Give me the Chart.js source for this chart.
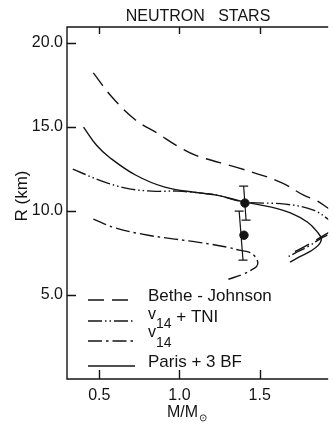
<!DOCTYPE html>
<html><head><meta charset="utf-8">
<script src="https://cdn.jsdelivr.net/npm/chart.js@4.4.0/dist/chart.umd.min.js"></script>
<style>html,body{margin:0;padding:0;background:#fff;}canvas{display:block}</style>
</head><body>
<canvas id="c" width="334" height="428"></canvas>
<script>
// ---- data ----
const chartTitle = 'NEUTRON   STARS';
const yTitle = 'R (km)';
const xTitle = 'M/M';
const xTitleSub = '\u2299';
const seriesNames = ['Bethe - Johnson', 'v14 + TNI', 'v14', 'Paris + 3 BF'];
const xTicks = [0.5, 1.0, 1.5];
const yTicks = [5, 10, 15, 20];

const bjM  = [0.463,0.579,0.726,0.860,0.988,1.110,1.372,1.628,1.774,1.848,1.927,1.994,2.006,1.970,1.902,1.829,1.750,1.683];
const bjR  = [18.20,16.77,15.40,14.63,13.85,13.27,12.54,11.71,10.93,10.64,10.16,9.74,9.32,8.97,8.55,8.14,7.72,7.42];

const tniM = [0.335,0.500,0.665,0.829,0.988,1.140,1.232,1.409,1.659,1.835,1.927,1.970,1.951,1.884,1.805,1.720,1.671];
const tniR = [12.48,11.83,11.35,11.17,11.17,11.05,10.93,10.52,10.40,10.04,9.50,9.09,8.73,8.38,7.90,7.48,7.24];

const v14M = [0.463,0.604,0.805,0.970,1.110,1.293,1.372,1.433,1.470,1.488,1.482,1.457,1.396,1.305];
const v14R = [9.51,8.97,8.55,8.32,8.14,7.85,7.66,7.54,7.30,6.94,6.71,6.53,6.23,5.93];

const parM = [0.402,0.482,0.561,0.726,0.909,1.140,1.232,1.409,1.573,1.695,1.799,1.860,1.884,1.866,1.817,1.744,1.689];
const parR = [14.98,13.91,13.20,12.13,11.41,11.05,10.93,10.52,10.22,9.86,9.32,8.73,8.32,7.96,7.60,7.24,6.95];

const obsM = [1.408, 1.402];
const obsR = [10.46, 8.55];
const errTopM = [1.400, 1.372];
const errTopR = [11.47, 9.98];
const errBotM = [1.415, 1.396];
const errBotR = [9.45, 7.07];

// ---- build ----
const ink = '#141414';
const FONT = "'Liberation Sans', Arial, sans-serif";
const pts = (m, r) => m.map((v, i) => ({x: v, y: r[i]}));
const curve = (label, m, r, dash) => ({
  label, data: pts(m, r), borderColor: ink, borderWidth: 1.4, borderDash: dash,
  pointRadius: 0, tension: 0.4, fill: false
});
const datasets = [
  curve(seriesNames[0], bjM, bjR, [16, 8]),
  curve(seriesNames[1], tniM, tniR, [14, 3, 1.5, 3, 1.5, 3]),
  curve(seriesNames[2], v14M, v14R, [14, 4, 2.5, 4]),
  curve(seriesNames[3], parM, parR, []),
];
obsM.forEach((m, i) => {
  datasets.push({
    label: 'err' + i,
    data: [{x: errTopM[i], y: errTopR[i]}, {x: errBotM[i], y: errBotR[i]}],
    borderColor: ink, borderWidth: 1.2, tension: 0,
    pointStyle: 'line', pointRadius: 4.5, pointBorderWidth: 1.3, pointBorderColor: ink
  });
});
datasets.push({
  label: 'obs', data: pts(obsM, obsR), showLine: false,
  pointStyle: 'circle', pointRadius: 4.2, backgroundColor: ink, borderColor: ink, pointBackgroundColor: ink
});

const deco = {
  id: 'deco',
  afterDraw(chart) {
    const ctx = chart.ctx;
    const {left, right, top, bottom} = chart.chartArea;
    const xs = chart.scales.x, ys = chart.scales.y;
    ctx.save();
    ctx.strokeStyle = ink; ctx.fillStyle = ink; ctx.lineWidth = 1.4; ctx.setLineDash([]);
    ctx.beginPath();
    ctx.moveTo(right, top); ctx.lineTo(left, top); ctx.lineTo(left, bottom); ctx.lineTo(right, bottom);
    ctx.stroke();
    ctx.beginPath();
    xTicks.forEach(v => {
      const p = Math.round(xs.getPixelForValue(v)) + 0.5;
      ctx.moveTo(p, bottom); ctx.lineTo(p, bottom - 9);
      ctx.moveTo(p, top); ctx.lineTo(p, top + 7);
    });
    yTicks.forEach(v => {
      const p = Math.round(ys.getPixelForValue(v)) + 0.5;
      ctx.moveTo(left, p); ctx.lineTo(left + 9, p);
    });
    ctx.stroke();

    // title
    ctx.font = '16px ' + FONT; ctx.textAlign = 'center'; ctx.textBaseline = 'alphabetic';
    ctx.fillText(chartTitle, 198, 21);
    // y title
    ctx.save();
    ctx.translate(22, 196); ctx.rotate(-Math.PI / 2);
    ctx.font = '17px ' + FONT; ctx.textAlign = 'center'; ctx.textBaseline = 'middle';
    ctx.fillText(yTitle, 0, 0);
    ctx.restore();
    // x title
    ctx.font = '16px ' + FONT; ctx.textAlign = 'left';
    ctx.fillText(xTitle, 167, 417);
    const w = ctx.measureText(xTitle).width;
    ctx.font = '10px ' + FONT;
    ctx.fillText(xTitleSub, 167 + w + 1, 421);

    // legend
    const rows = [
      {line: 300, base: 301},
      {line: 321, base: 319, sub: 328, rest: 322},
      {line: 341, base: 337, sub: 347},
      {line: 366, base: 367}
    ];
    rows.forEach((r, i) => {
      const ds = chart.data.datasets[i];
      ctx.setLineDash(ds.borderDash || []);
      ctx.lineWidth = 1.4;
      ctx.beginPath(); ctx.moveTo(88, r.line); ctx.lineTo(135, r.line); ctx.stroke();
      ctx.setLineDash([]);
      const name = seriesNames[i];
      const m = name.match(/^v(\d+)(.*)$/);
      ctx.textAlign = 'left';
      if (m) {
        ctx.font = '16px ' + FONT;
        ctx.fillText('v', 148, r.base);
        const vw = ctx.measureText('v').width;
        ctx.font = '14px ' + FONT;
        ctx.fillText(m[1], 148 + vw, r.sub);
        const sw = ctx.measureText(m[1]).width;
        if (m[2]) {
          ctx.font = '17px ' + FONT;
          ctx.fillText(m[2], 148 + vw + sw, r.rest);
        }
      } else {
        ctx.font = '17px ' + FONT;
        ctx.fillText(name, 148, r.base);
      }
    });
    ctx.restore();
  }
};

new Chart(document.getElementById('c'), {
  type: 'line',
  data: {datasets},
  options: {
    responsive: false, animation: false, devicePixelRatio: 1,
    layout: {padding: {top: 27, left: 0, right: 0, bottom: 0}},
    plugins: {legend: {display: false}, title: {display: false}, tooltip: {enabled: false}},
    scales: {
      x: {
        type: 'linear', min: 0.299, max: 1.927,
        afterFit(s) { s.height = 49; },
        afterBuildTicks(s) { s.ticks = xTicks.map(v => ({value: v})); },
        ticks: {padding: 7, autoSkip: false, maxRotation: 0, color: ink,
                font: {family: FONT, size: 16}, callback: v => Number(v).toFixed(1)},
        grid: {display: false, drawTicks: false}, border: {display: false}
      },
      y: {
        type: 'linear', min: 0, max: 20.93,
        afterFit(s) { s.width = 67; },
        afterBuildTicks(s) { s.ticks = yTicks.map(v => ({value: v})); },
        ticks: {padding: 4, autoSkip: false, color: ink,
                font: {family: FONT, size: 16}, callback: v => Number(v).toFixed(1)},
        grid: {display: false, drawTicks: false}, border: {display: false}
      }
    }
  },
  plugins: [deco]
});
</script>
</body></html>
